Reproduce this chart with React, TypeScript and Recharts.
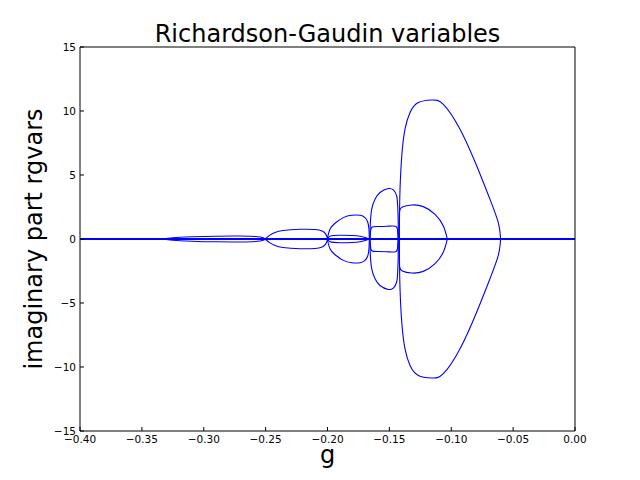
import { LineChart, Line, XAxis, YAxis } from "recharts";

type Pt = [number, number];

const xTicks = [-0.4, -0.35, -0.3, -0.25, -0.2, -0.15, -0.1, -0.05, 0];
const yTicks = [-15, -10, -5, 0, 5, 10, 15];

// g, Im(rgvar)
const realAxis: Pt[] = [[-0.4, 0], [0, 0]];

const thinUpper: Pt[] = [[-0.333, 0], [-0.325, 0.1], [-0.31, 0.17], [-0.29, 0.22], [-0.27, 0.23], [-0.258, 0.19], [-0.252, 0.1], [-0.2505, 0]];
const thinLower: Pt[] = [[-0.333, 0], [-0.325, -0.1], [-0.31, -0.17], [-0.29, -0.22], [-0.27, -0.23], [-0.258, -0.19], [-0.252, -0.1], [-0.2505, 0]];

const loopBUpper: Pt[] = [[-0.2505, 0], [-0.2465, 0.3], [-0.2424, 0.5], [-0.236, 0.66], [-0.2222, 0.76], [-0.2101, 0.74], [-0.2044, 0.62], [-0.2015, 0.4], [-0.1998, 0]];
const loopBLower: Pt[] = [[-0.2505, 0], [-0.2465, -0.3], [-0.2424, -0.5], [-0.236, -0.66], [-0.2222, -0.76], [-0.2101, -0.74], [-0.2044, -0.62], [-0.2015, -0.4], [-0.1998, 0]];

const lensUpper: Pt[] = [[-0.1996, 0], [-0.198, 0.22], [-0.19, 0.29], [-0.18, 0.27], [-0.1737, 0.21], [-0.1689, 0.09], [-0.1673, 0]];
const lensLower: Pt[] = [[-0.1996, 0], [-0.198, -0.22], [-0.19, -0.29], [-0.18, -0.27], [-0.1737, -0.21], [-0.1689, -0.09], [-0.1673, 0]];

const loopDUpper: Pt[] = [[-0.2002, 0], [-0.198, 0.76], [-0.1939, 1.23], [-0.1872, 1.67], [-0.1804, 1.85], [-0.1737, 1.85], [-0.1697, 1.67], [-0.1675, 1.33], [-0.1665, 0.76], [-0.1662, 0]];
const loopDLower: Pt[] = [[-0.2002, 0], [-0.198, -0.76], [-0.1939, -1.23], [-0.1872, -1.67], [-0.1804, -1.85], [-0.1737, -1.85], [-0.1697, -1.67], [-0.1675, -1.33], [-0.1665, -0.76], [-0.1662, 0]];

const loopEUpper: Pt[] = [[-0.1657, 0], [-0.1652, 0.6], [-0.1642, 0.92], [-0.16, 0.98], [-0.152, 1.0], [-0.145, 1.0], [-0.1434, 0.7], [-0.1429, 0]];
const loopELower: Pt[] = [[-0.1657, 0], [-0.1652, -0.6], [-0.1642, -0.92], [-0.16, -0.98], [-0.152, -1.0], [-0.145, -1.0], [-0.1434, -0.7], [-0.1429, 0]];

const loopFUpper: Pt[] = [[-0.1657, 0], [-0.1655, 1.0], [-0.1643, 2.32], [-0.1616, 3.1], [-0.1576, 3.63], [-0.1509, 3.94], [-0.1468, 3.83], [-0.1441, 3.36], [-0.1433, 2.58], [-0.1429, 1.54], [-0.1428, 0]];
const loopFLower: Pt[] = [[-0.1657, 0], [-0.1655, -1.0], [-0.1643, -2.32], [-0.1616, -3.1], [-0.1576, -3.63], [-0.1509, -3.94], [-0.1468, -3.83], [-0.1441, -3.36], [-0.1433, -2.58], [-0.1429, -1.54], [-0.1428, 0]];

const loopGUpper: Pt[] = [[-0.142, 0], [-0.142, 1.5], [-0.1417, 2.2], [-0.1395, 2.5], [-0.132, 2.66], [-0.1226, 2.53], [-0.1131, 1.93], [-0.1064, 1.02], [-0.1032, 0]];
const loopGLower: Pt[] = [[-0.142, 0], [-0.142, -1.5], [-0.1417, -2.2], [-0.1395, -2.5], [-0.132, -2.66], [-0.1226, -2.53], [-0.1131, -1.93], [-0.1064, -1.02], [-0.1032, 0]];

const loopHUpper: Pt[] = [[-0.142, 0], [-0.1418, 2.0], [-0.1414, 3.88], [-0.14, 6.49], [-0.1374, 8.57], [-0.1333, 9.88], [-0.1266, 10.66], [-0.1158, 10.86], [-0.1064, 10.52], [-0.0929, 8.57], [-0.0794, 5.7], [-0.0687, 3.1], [-0.062, 1.28], [-0.0601, 0]];
const loopHLower: Pt[] = [[-0.142, 0], [-0.1418, -2.0], [-0.1414, -3.88], [-0.14, -6.49], [-0.1374, -8.57], [-0.1333, -9.88], [-0.1266, -10.66], [-0.1158, -10.86], [-0.1064, -10.52], [-0.0929, -8.57], [-0.0794, -5.7], [-0.0687, -3.1], [-0.062, -1.28], [-0.0601, 0]];

const loops = [
  thinUpper, thinLower, loopBUpper, loopBLower, lensUpper, lensLower,
  loopDUpper, loopDLower, loopEUpper, loopELower, loopFUpper, loopFLower,
  loopGUpper, loopGLower, loopHUpper, loopHLower,
];

const toRows = (pts: Pt[]) => pts.map(([x, y]) => ({ x, y }));
const minus = (s: string) => s.replace("-", "\u2212");
const fmtX = (v: number) => minus(v.toFixed(2));
const fmtY = (v: number) => minus(String(v));

const FONT = "DejaVu Sans";
const tickStyle = { fontSize: 10.5, fill: "#000", fontFamily: FONT };

export default function App() {
  return (
    <div style={{ position: "absolute", left: 0, top: 0, width: 640, height: 480, background: "#fff" }}>
      <LineChart width={640} height={480} margin={{ top: 46, right: 64, bottom: 48, left: 79 }}>
        <XAxis
          type="number"
          dataKey="x"
          domain={[-0.4, 0]}
          ticks={xTicks}
          tickFormatter={fmtX}
          allowDataOverflow
          height={1}
          tickSize={-4}
          tickMargin={9}
          tick={tickStyle}
          axisLine={{ stroke: "#000" }}
          tickLine={{ stroke: "#000" }}
        />
        <XAxis
          xAxisId="top"
          orientation="top"
          type="number"
          dataKey="x"
          domain={[-0.4, 0]}
          ticks={xTicks}
          allowDataOverflow
          height={1}
          tickSize={-4}
          tick={false}
          axisLine={{ stroke: "#000" }}
          tickLine={{ stroke: "#000" }}
        />
        <YAxis
          type="number"
          domain={[-15, 15]}
          ticks={yTicks}
          tickFormatter={fmtY}
          allowDataOverflow
          width={1}
          tickSize={-4}
          tickMargin={8}
          tick={tickStyle}
          axisLine={{ stroke: "#000" }}
          tickLine={{ stroke: "#000" }}
        />
        <YAxis
          yAxisId="right"
          orientation="right"
          type="number"
          domain={[-15, 15]}
          ticks={yTicks}
          allowDataOverflow
          width={1}
          tickSize={-4}
          tick={false}
          axisLine={{ stroke: "#000" }}
          tickLine={{ stroke: "#000" }}
        />
        <Line
          data={toRows(realAxis)}
          dataKey="y"
          type="linear"
          stroke="#0000ff"
          strokeWidth={2}
          dot={false}
          isAnimationActive={false}
        />
        {loops.map((pts, i) => (
          <Line
            key={i}
            data={toRows(pts)}
            dataKey="y"
            type="natural"
            stroke="#0000ff"
            strokeWidth={1.1}
            dot={false}
            isAnimationActive={false}
          />
        ))}
      </LineChart>
      <svg width={640} height={480} style={{ position: "absolute", left: 0, top: 0, pointerEvents: "none" }}>
        <text x={327.5} y={42} textAnchor="middle" fontFamily={FONT} fontSize={24} fill="#000">
          Richardson-Gaudin variables
        </text>
        <text x={327.5} y={463} textAnchor="middle" fontFamily={FONT} fontSize={24} fill="#000">
          g
        </text>
        <text
          x={42}
          y={239}
          transform="rotate(-90 42 239)"
          textAnchor="middle"
          fontFamily={FONT}
          fontSize={24}
          fill="#000"
        >
          imaginary part rgvars
        </text>
      </svg>
    </div>
  );
}
